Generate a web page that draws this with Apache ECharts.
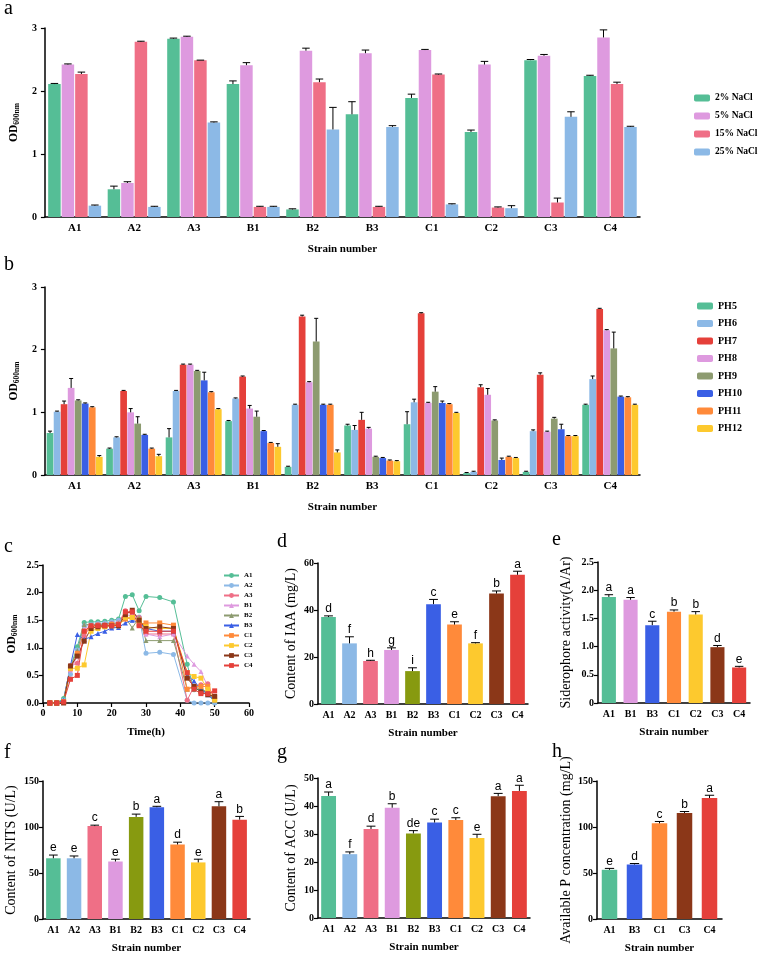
<!DOCTYPE html>
<html>
<head>
<meta charset="utf-8">
<script src="https://cdn.jsdelivr.net/npm/echarts@6/dist/echarts.min.js"></script>
<style>html,body{margin:0;padding:0;background:#fff}#chart{width:759px;height:955px}</style>
</head>
<body>
<div id="chart"></div>
<script>
// ---- data ----
const strains = ['A1', 'A2', 'A3', 'B1', 'B2', 'B3', 'C1', 'C2', 'C3', 'C4'];

// a: growth under salt
const saltNames = ['2% NaCl', '5% NaCl', '15% NaCl', '25% NaCl'];
const saltVals = [
  [2.11, 0.44, 2.83, 2.11, 0.12, 1.63, 1.89, 1.35, 2.49, 2.24],
  [2.42, 0.54, 2.86, 2.41, 2.64, 2.60, 2.65, 2.42, 2.56, 2.85],
  [2.27, 2.78, 2.49, 0.16, 2.14, 0.16, 2.26, 0.15, 0.23, 2.11],
  [0.18, 0.16, 1.50, 0.16, 1.39, 1.43, 0.20, 0.14, 1.59, 1.43],
];
const saltErr = [
  [0.01, 0.05, 0.01, 0.05, 0.01, 0.20, 0.06, 0.03, 0.01, 0.01],
  [0.01, 0.02, 0.01, 0.04, 0.04, 0.05, 0.01, 0.05, 0.02, 0.12],
  [0.03, 0.01, 0.00, 0.01, 0.05, 0.01, 0.01, 0.01, 0.07, 0.03],
  [0.01, 0.01, 0.01, 0.01, 0.35, 0.02, 0.01, 0.04, 0.08, 0.01],
];

// b: growth under pH
const phNames = ['PH5', 'PH6', 'PH7', 'PH8', 'PH9', 'PH10', 'PH11', 'PH12'];
const phVals = [
  [0.67, 0.42, 0.60, 0.86, 0.13, 0.79, 0.81, 0.03, 0.05, 1.12],
  [1.01, 0.60, 1.34, 1.22, 1.12, 0.72, 1.16, 0.05, 0.70, 1.53],
  [1.13, 1.34, 1.76, 1.57, 2.53, 0.88, 2.58, 1.40, 1.60, 2.65],
  [1.39, 1.00, 1.76, 1.06, 1.48, 0.74, 1.15, 1.28, 0.69, 2.31],
  [1.19, 0.82, 1.66, 0.93, 2.13, 0.29, 1.33, 0.87, 0.90, 2.02],
  [1.14, 0.64, 1.51, 0.70, 1.12, 0.27, 1.15, 0.24, 0.73, 1.25],
  [1.08, 0.42, 1.32, 0.51, 1.12, 0.23, 1.13, 0.29, 0.62, 1.24],
  [0.29, 0.30, 1.05, 0.45, 0.36, 0.22, 0.99, 0.27, 0.62, 1.12],
];
const phErr = [
  [0.03, 0.01, 0.14, 0.01, 0.01, 0.02, 0.20, 0.01, 0.01, 0.01],
  [0.01, 0.01, 0.01, 0.01, 0.01, 0.07, 0.05, 0.01, 0.02, 0.05],
  [0.05, 0.01, 0.01, 0.01, 0.02, 0.12, 0.01, 0.04, 0.03, 0.01],
  [0.15, 0.06, 0.01, 0.05, 0.01, 0.02, 0.01, 0.10, 0.01, 0.01],
  [0.01, 0.11, 0.01, 0.09, 0.37, 0.01, 0.08, 0.01, 0.02, 0.26],
  [0.01, 0.01, 0.13, 0.01, 0.01, 0.01, 0.03, 0.03, 0.08, 0.01],
  [0.01, 0.01, 0.01, 0.01, 0.01, 0.01, 0.01, 0.01, 0.01, 0.01],
  [0.02, 0.03, 0.01, 0.05, 0.04, 0.01, 0.01, 0.01, 0.01, 0.01],
];

// c: growth curves (same order as strains)
const timeH = [2, 4, 6, 8, 10, 12, 14, 16, 18, 20, 22, 24, 26, 28, 30, 34, 38, 42, 44, 46, 48, 50];
const odCurves = [
  [0, 0, 0.08, 0.65, 1.02, 1.46, 1.47, 1.47, 1.48, 1.50, 1.52, 1.93, 1.96, 1.67, 1.93, 1.91, 1.83, 0.70, 0.24, 0.25, 0.17, 0.01],
  [0, 0, 0.05, 0.52, 0.96, 1.40, 1.42, 1.44, 1.45, 1.47, 1.50, 1.58, 1.50, 1.56, 0.90, 0.92, 0.88, 0.05, 0, 0, 0, 0],
  [0, 0, 0.03, 0.68, 0.72, 1.22, 1.40, 1.42, 1.42, 1.44, 1.45, 1.67, 1.62, 1.55, 1.25, 1.25, 1.25, 0.05, 0.30, 0.33, 0.35, 0.05],
  [0, 0, 0.02, 0.60, 0.85, 1.35, 1.40, 1.42, 1.43, 1.44, 1.46, 1.60, 1.58, 1.55, 1.25, 1.20, 1.25, 0.85, 0.70, 0.57, 0.30, 0.10],
  [0, 0, 0.02, 0.65, 0.95, 1.42, 1.42, 1.42, 1.43, 1.44, 1.45, 1.55, 1.36, 1.55, 1.13, 1.13, 1.13, 0.25, 0.30, 0.25, 0.20, 0.05],
  [0, 0, 0.05, 0.68, 1.24, 1.15, 1.20, 1.26, 1.30, 1.36, 1.37, 1.45, 1.50, 1.45, 1.35, 1.30, 1.30, 0.50, 0.40, 0.25, 0.15, 0.05],
  [0, 0, 0.02, 0.62, 0.90, 1.30, 1.38, 1.40, 1.40, 1.42, 1.42, 1.52, 1.55, 1.42, 1.45, 1.45, 1.41, 0.25, 0.30, 0.30, 0.30, 0.10],
  [0, 0, 0.02, 0.63, 0.63, 0.69, 1.30, 1.35, 1.38, 1.40, 1.40, 1.55, 1.55, 1.50, 1.38, 1.35, 1.35, 0.55, 0.48, 0.45, 0.25, 0.05],
  [0, 0, 0, 0.67, 0.85, 1.12, 1.35, 1.38, 1.40, 1.40, 1.40, 1.60, 1.68, 1.50, 1.35, 1.38, 1.35, 0.45, 0.30, 0.20, 0.15, 0.12],
  [0, 0, 0.02, 0.43, 0.50, 1.30, 1.40, 1.40, 1.40, 1.40, 1.42, 1.65, 1.65, 1.40, 1.30, 1.30, 1.30, 0.55, 0.25, 0.17, 0.17, 0.22],
];

// d: IAA
const iaaVals = [37, 25.8, 18.3, 23, 14, 42.5, 33.8, 25.8, 47, 55];
const iaaErr = [0.5, 2.8, 0.3, 0.9, 1.4, 2, 1.2, 0.3, 1.1, 1.5];
const iaaSig = ['d', 'f', 'h', 'g', 'i', 'c', 'e', 'f', 'b', 'a'];

// e: siderophore
const sidStrains = ['A1', 'B1', 'B3', 'C1', 'C2', 'C3', 'C4'];
const sidVals = [1.88, 1.83, 1.38, 1.62, 1.57, 0.99, 0.63];
const sidErr = [0.04, 0.04, 0.07, 0.03, 0.05, 0.03, 0.02];
const sidSig = ['a', 'a', 'c', 'b', 'b', 'd', 'e'];

// f: NITS
const nitsVals = [66, 66, 101, 62.5, 111, 121.5, 81, 61.5, 122.5, 108];
const nitsErr = [3.5, 2.5, 1, 2.5, 3, 1, 2.5, 3.5, 5, 3.5];
const nitsSig = ['e', 'e', 'c', 'e', 'b', 'a', 'd', 'e', 'a', 'b'];

// g: ACC
const accVals = [43.6, 22.8, 31.8, 39.4, 30.2, 34.1, 35, 28.6, 43.5, 45.4];
const accErr = [1.4, 0.8, 1, 1.4, 1, 1.2, 0.8, 1.3, 1, 2];
const accSig = ['a', 'f', 'd', 'b', 'de', 'c', 'c', 'e', 'a', 'a'];

// h: available P
const pStrains = ['A1', 'B3', 'C1', 'C3', 'C4'];
const pVals = [53.5, 59.3, 104, 115.3, 131.5];
const pErr = [1.5, 1, 2, 1.5, 3];
const pSig = ['e', 'd', 'c', 'b', 'a'];

// ---- styles ----
const SERIF = '"Liberation Serif", "Times New Roman", serif';
const SANS = '"Liberation Sans", Arial, sans-serif';
const strainColor = {
  A1: '#55be96', A2: '#8cb9e6', A3: '#ef6f86', B1: '#de9adf', B2: '#879a10',
  B3: '#3a5fe5', C1: '#ff8a3a', C2: '#fdc92e', C3: '#8b3718', C4: '#e5403a',
};
const curveColor = Object.assign({}, strainColor, { B2: '#8d9b70' });
const saltColors = ['#55be96', '#de9adf', '#ef6f86', '#8cb9e6'];
const phColors = ['#55be96', '#8cb9e6', '#e5403a', '#de9adf', '#8d9b70', '#3a5fe5', '#ff8a3a', '#fdc92e'];

const grids = [
  { left: 44, top: 28, width: 596, height: 189 },   // a
  { left: 44, top: 287, width: 596, height: 188 },  // b
  { left: 43, top: 565, width: 206, height: 138 },  // c
  { left: 318, top: 563, width: 210, height: 141 }, // d
  { left: 598, top: 562, width: 152, height: 141 }, // e
  { left: 43, top: 781, width: 207, height: 138 },  // f
  { left: 318, top: 778, width: 212, height: 140 }, // g
  { left: 597, top: 781, width: 125, height: 138 }, // h
];

const axisLine = { lineStyle: { color: '#000', width: 1.5 } };
const axisTick = { length: 4, lineStyle: { color: '#000', width: 1.2 } };
const boldLabel = (size) => ({ color: '#000', fontFamily: SERIF, fontWeight: 'bold', fontSize: size });

function catAxis(gi, data, size, gap) {
  return {
    type: 'category', gridIndex: gi, data,
    axisLine, axisTick: Object.assign({ alignWithLabel: true }, axisTick),
    axisLabel: Object.assign({ margin: 6, interval: 0 }, boldLabel(size)),
    name: 'Strain number', nameLocation: 'middle', nameGap: gap,
    nameTextStyle: boldLabel(11),
  };
}

function valAxis(gi, max, interval, name, gap, fmt, margin) {
  return {
    type: 'value', gridIndex: gi, min: 0, max, interval,
    axisLine: Object.assign({ show: true }, axisLine), axisTick: Object.assign({ show: true }, axisTick),
    splitLine: { show: false },
    axisLabel: Object.assign({ margin: margin || 4, formatter: fmt }, boldLabel(10)),
    name, nameLocation: 'middle', nameGap: gap,
    nameTextStyle: { color: '#000', fontFamily: SERIF, fontSize: 14 },
  };
}

const odName = {
  name: '{m|OD}{s|600nm}',
  nameTextStyle: {
    rich: {
      m: { fontFamily: SERIF, fontWeight: 'bold', fontSize: 11.5, color: '#000', lineHeight: 14, verticalAlign: 'middle' },
      s: { fontFamily: SERIF, fontWeight: 'bold', fontSize: 7.5, color: '#000', lineHeight: 14, verticalAlign: 'bottom' },
    },
  },
};

// error bars (and significance letters) drawn through the axes of grid gi
function errorBars(gi, vals, errs, sig, k, n, catGap, gap) {
  return {
    type: 'custom', name: '_err', xAxisIndex: gi, yAxisIndex: gi, z: 5, silent: true,
    data: vals.map((v, i) => [i, v, v + errs[i]]),
    encode: { x: 0, y: [1, 2] },
    renderItem(params, api) {
      const i = api.value(0);
      const band = api.size([1, 0])[0];
      const w = band * (1 - catGap) / (n + (n - 1) * gap);
      const sum = n * w + (n - 1) * w * gap;
      const x = api.coord([i, 0])[0] - sum / 2 + k * w * (1 + gap) + w / 2;
      const y1 = api.coord([i, api.value(1)])[1];
      const y2 = api.coord([i, api.value(2)])[1];
      const cw = Math.max(w * 0.3, 2);
      const st = { stroke: '#000', lineWidth: 1 };
      const kids = [
        { type: 'line', shape: { x1: x, y1, x2: x, y2 }, style: st },
        { type: 'line', shape: { x1: x - cw, y1: y2, x2: x + cw, y2 }, style: st },
      ];
      if (sig) {
        kids.push({ type: 'text', x, y: y2 - 1,
          style: { text: sig[params.dataIndex], align: 'center', verticalAlign: 'bottom', font: '12px ' + SANS, fill: '#000' } });
      }
      return { type: 'group', children: kids };
    },
  };
}

function groupedBars(gi, names, vals, errs, colors, catGap, gap) {
  const out = [];
  names.forEach((nm, k) => {
    out.push({
      type: 'bar', name: nm, xAxisIndex: gi, yAxisIndex: gi, data: vals[k],
      barCategoryGap: (catGap * 100) + '%', barGap: (gap * 100) + '%',
      itemStyle: { color: colors[k] },
    });
  });
  names.forEach((nm, k) => out.push(errorBars(gi, vals[k], errs[k], null, k, names.length, catGap, gap)));
  return out;
}

function strainBars(gi, name, cats, vals, errs, sig, catGap) {
  return [
    {
      type: 'bar', name, xAxisIndex: gi, yAxisIndex: gi, data: vals,
      barCategoryGap: (catGap * 100) + '%',
      itemStyle: { color: (p) => strainColor[cats[p.dataIndex]] },
    },
    errorBars(gi, vals, errs, sig, 0, 1, catGap, 0),
  ];
}

const symbolOf = (s) => (s[0] === 'A' ? 'circle' : s[0] === 'B' ? 'triangle' : 'rect');
const curveSeries = strains.map((s, k) => ({
  type: 'line', name: s, xAxisIndex: 2, yAxisIndex: 2,
  data: timeH.map((t, i) => [t, odCurves[k][i]]),
  symbol: symbolOf(s), symbolSize: 5,
  lineStyle: { width: 1, color: curveColor[s] },
  itemStyle: { color: curveColor[s] },
}));

const panelLetter = (t, x, y) => ({
  type: 'text', x, y,
  style: { text: t, font: '20px ' + SERIF, fill: '#000', verticalAlign: 'middle' },
});

const legendText = (size) => ({ color: '#000', fontFamily: SERIF, fontWeight: 'bold', fontSize: size });

const option = {
  animation: false,
  backgroundColor: '#fff',
  grid: grids,
  xAxis: [
    catAxis(0, strains, 11, 27),
    catAxis(1, strains, 11, 27),
    {
      type: 'value', gridIndex: 2, min: 0, max: 60, interval: 10,
      axisLine, axisTick, splitLine: { show: false },
      axisLabel: Object.assign({ margin: 5 }, boldLabel(10)),
      name: 'Time(h)', nameLocation: 'middle', nameGap: 24, nameTextStyle: boldLabel(11),
    },
    catAxis(3, strains, 10, 24),
    catAxis(4, sidStrains, 10, 24),
    catAxis(5, strains, 10, 24),
    catAxis(6, strains, 10, 24),
    catAxis(7, pStrains, 10, 24),
  ],
  yAxis: [
    Object.assign(valAxis(0, 3, 1, '', 20, null, 8), odName),
    Object.assign(valAxis(1, 3, 1, '', 20, null, 8), odName),
    Object.assign(valAxis(2, 2.5, 0.5, '', 24, (v) => v.toFixed(1)), odName),
    valAxis(3, 60, 20, 'Content of IAA (mg/L)', 20),
    valAxis(4, 2.5, 0.5, 'Siderophore activity(A/Ar)', 25, (v) => (v === 0 ? '0' : v.toFixed(1))),
    valAxis(5, 150, 50, 'Content of NITS (U/L)', 25),
    valAxis(6, 50, 10, 'Content of ACC (U/L)', 20),
    valAxis(7, 150, 50, 'Available P concentration (mg/L)', 24),
  ],
  legend: [
    {
      data: saltNames, orient: 'vertical', left: 689, top: 88,
      itemWidth: 16, itemHeight: 7, itemGap: 8, textStyle: legendText(9.5),
    },
    {
      data: phNames, orient: 'vertical', left: 692, top: 296,
      itemWidth: 16, itemHeight: 7, itemGap: 7.5, textStyle: legendText(10),
    },
    {
      data: strains, orient: 'vertical', left: 218, top: 567,
      itemWidth: 15, itemHeight: 6, itemGap: 3, textStyle: legendText(7),
    },
  ],
  graphic: [
    panelLetter('a', 4, 9),
    panelLetter('b', 4, 265),
    panelLetter('c', 4, 547),
    panelLetter('d', 277, 542),
    panelLetter('e', 552, 540),
    panelLetter('f', 4, 753),
    panelLetter('g', 277, 753),
    panelLetter('h', 552, 752),
  ],
  series: [
    ...groupedBars(0, saltNames, saltVals, saltErr, saltColors, 0.11, 0.08),
    ...groupedBars(1, phNames, phVals, phErr, phColors, 0.06, 0.05),
    ...curveSeries,
    ...strainBars(3, 'IAA', strains, iaaVals, iaaErr, iaaSig, 0.3),
    ...strainBars(4, 'Siderophore', sidStrains, sidVals, sidErr, sidSig, 0.35),
    ...strainBars(5, 'NITS', strains, nitsVals, nitsErr, nitsSig, 0.3),
    ...strainBars(6, 'ACC', strains, accVals, accErr, accSig, 0.3),
    ...strainBars(7, 'P', pStrains, pVals, pErr, pSig, 0.38),
  ],
};

const chart = echarts.init(document.getElementById('chart'), null, { renderer: 'canvas' });
chart.setOption(option);
</script>
</body>
</html>
